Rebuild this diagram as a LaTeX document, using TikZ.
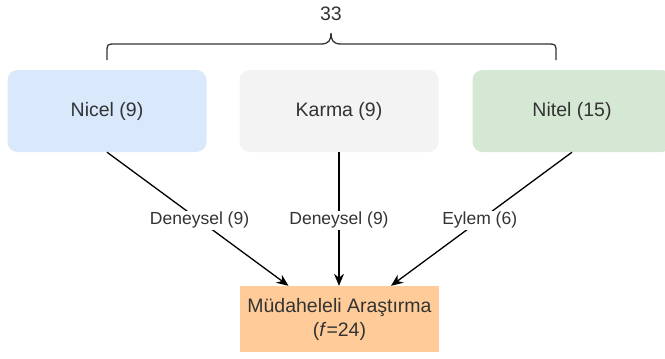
\documentclass[tikz,border=0pt]{standalone}
\usepackage{fontspec}
\setmainfont{Liberation Sans}
\usetikzlibrary{arrows.meta,calc}
\definecolor{txt}{HTML}{333333}
\definecolor{cblue}{HTML}{DAE8FC}
\definecolor{cgray}{HTML}{F3F3F3}
\definecolor{cgreen}{HTML}{D5E8D4}
\definecolor{corange}{HTML}{FFCC99}
\tikzset{
  catbox/.style={rounded corners=10pt, minimum width=199pt, minimum height=82pt, inner sep=0pt, text=txt, font=\fontsize{19.5}{23}\selectfont},
  resbox/.style={minimum width=199pt, minimum height=66pt, inner sep=0pt, text=txt, align=center, font=\fontsize{19.5}{24}\selectfont, fill=corange},
  conn/.style={line width=1.3pt, -{Stealth[length=12pt,width=10pt]}},
  lbl/.style={fill=white, text=txt, inner sep=1.5pt, font=\fontsize{17.5}{20}\selectfont}
}
\begin{document}
\begin{tikzpicture}[x=1pt,y=-1pt]
\useasboundingbox (0,0) rectangle (665,359);
\node[catbox, fill=cblue] (nicel) at (107,111) {Nicel (9)};
\node[catbox, fill=cgray] (karma) at (339,111) {Karma (9)};
\node[catbox, fill=cgreen] (nitel) at (572,111) {Nitel (15)};
\node[resbox] (mud) at (339.5,319) {Müdaheleli Araştırma\\(\textit{f}=24)};
\node[text=txt, font=\fontsize{19.5}{23}\selectfont] (total) at (331,14) {33};
\coordinate (bl) at (107,60);
\coordinate (br) at (556,60);
\draw[line width=1.3pt, txt] (bl) -- (107,53) .. controls (107,44) .. (116,44) -- (321,44)
  .. controls (329,44) and (331,40) .. (331,33)
  .. controls (331,40) and (333,44) .. (341,44) -- (547,44)
  .. controls (556,44) .. (556,53) -- (br);
\draw[conn] (nicel.south) -- node[lbl, pos=0.51] {Deneysel (9)} ([xshift=-51pt]mud.north);
\draw[conn] (karma.south) -- node[lbl, pos=0.51] {Deneysel (9)} ([xshift=-0.5pt]mud.north);
\draw[conn] (nitel.south) -- node[lbl, pos=0.51] {Eylem (6)} ([xshift=51.5pt]mud.north);
\end{tikzpicture}
\end{document}
